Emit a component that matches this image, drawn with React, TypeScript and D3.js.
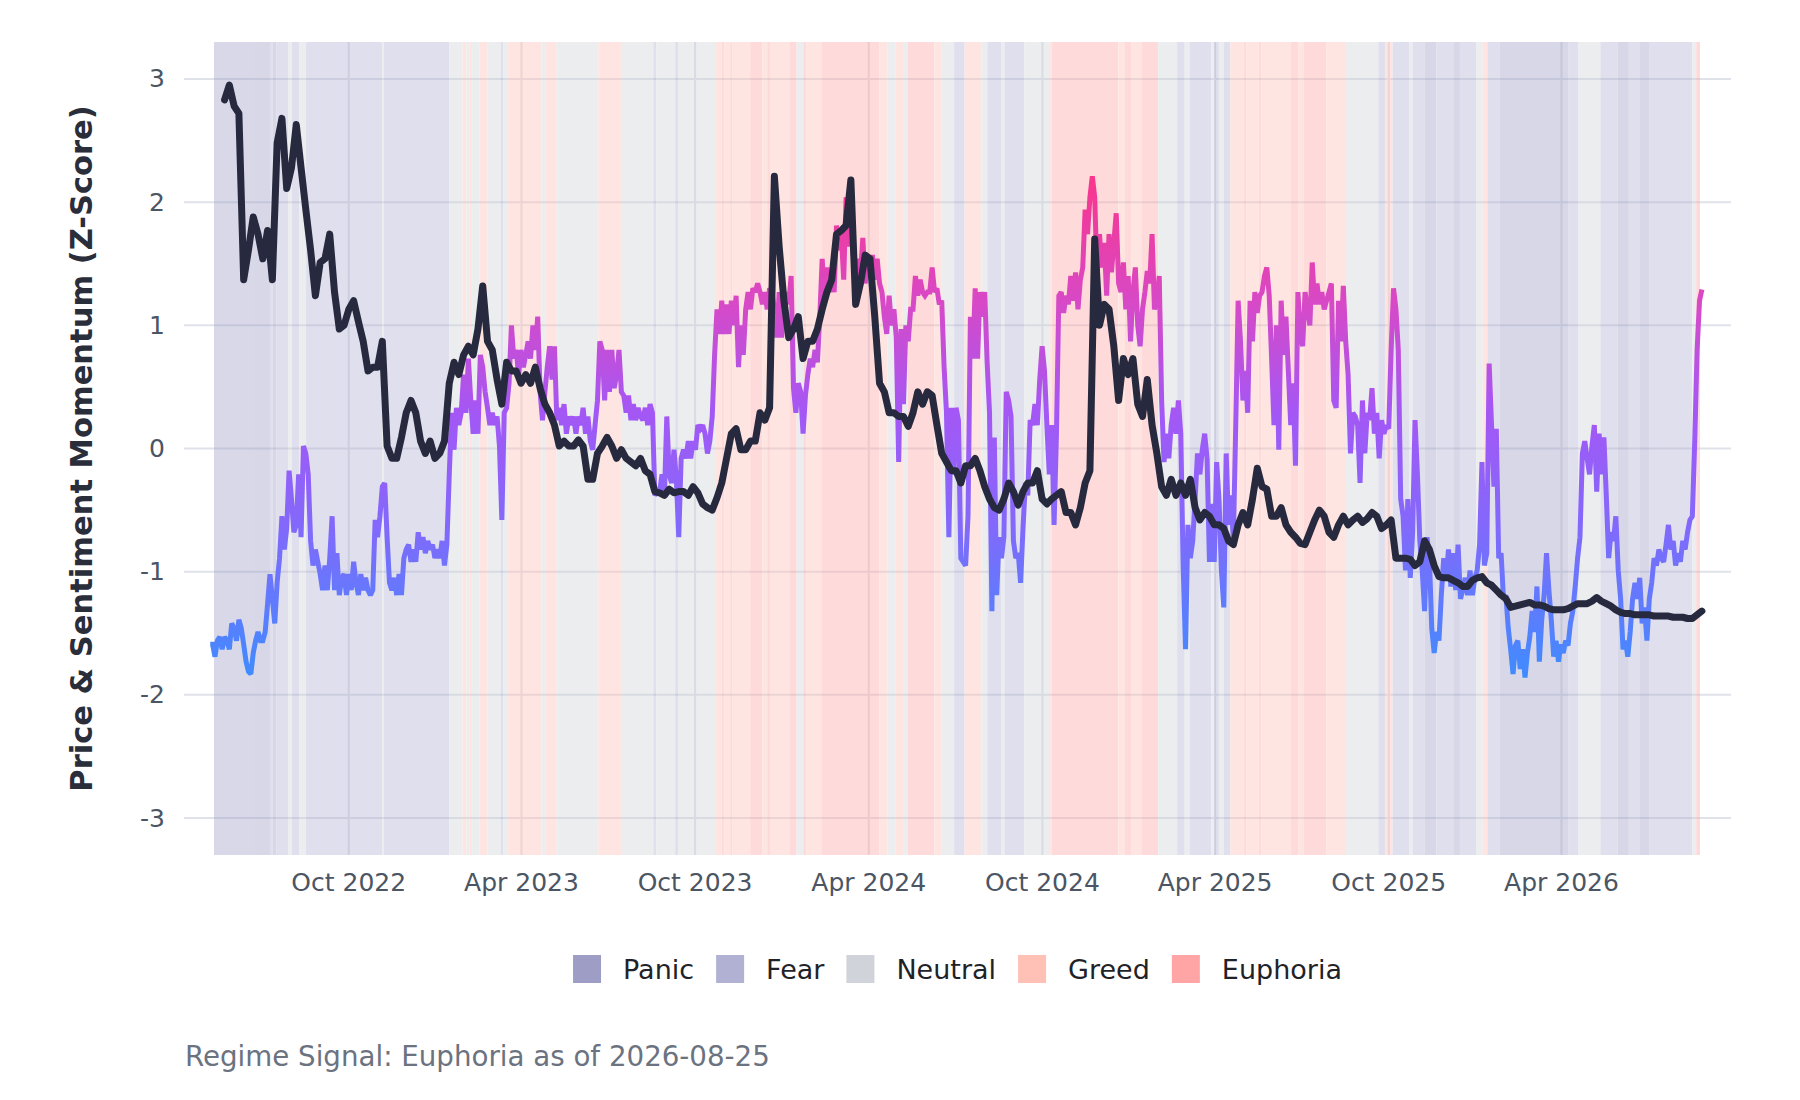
import * as d3 from "d3";
import { useMemo } from "react";

const W = 1800;
const H = 1100;
// panel (gridline extent) and the data extent inside it
const PANEL = { left: 184, right: 1731, top: 42, bottom: 855 };
const DATA_LEFT = 214;
const DATA_RIGHT = 1700;
const FONT = "'DejaVu Sans', Verdana, sans-serif";

const DOMAIN_START = "2022-05-12";
const DOMAIN_END = "2026-08-25";
const SERIES_START = "2022-05-08";
const SERIES_END = "2026-08-27";
const Y_DOMAIN: [number, number] = [-3.3, 3.3];
const Y_TICKS = [-3, -2, -1, 0, 1, 2, 3];
const X_TICKS = [
  "2022-10-01",
  "2023-04-01",
  "2023-10-01",
  "2024-04-01",
  "2024-10-01",
  "2025-04-01",
  "2025-10-01",
  "2026-04-01",
];

const REGIMES = ["Panic", "Fear", "Neutral", "Greed", "Euphoria"];
const REGIME_COLORS: Record<string, string> = {
  Panic: "#9d9dc5",
  Fear: "#b1b1d4",
  Neutral: "#d0d3d9",
  Greed: "#ffc0b5",
  Euphoria: "#ffa5a5",
};

// regime runs, in order: code + length in days
const REGIME_CODES = [
  "P", "F", "P", "F", "N", "F", "N", "F", "N", "F",
  "N", "G", "N", "G", "N", "G", "N", "F", "N", "G",
  "N", "G", "N", "G", "N", "F", "N", "F", "N", "G",
  "E", "G", "E", "G", "E", "G", "E", "G", "E",
  "N", "E", "G", "E", "G", "N", "G", "N", "E", "G",
  "N", "F", "G", "N", "F", "N", "F", "N", "G", "E",
  "G", "E", "G", "E", "N", "F", "N", "F", "N", "F",
  "N", "F", "G", "E", "G", "E", "G", "E", "G", "E",
  "G", "N", "F", "G", "F", "N", "F", "P", "F", "P",
  "F", "N", "G", "F", "P", "F", "N", "F", "P", "F",
  "P", "F", "N", "E",
];
const REGIME_DAYS = [
  59, 3, 4, 12, 4, 8, 7, 80, 2, 69,
  14, 4, 3, 3, 8, 8, 14, 3, 5, 35,
  4, 12, 44, 24, 34, 3, 20, 3, 40, 6,
  3, 6, 2, 19, 13, 5, 3, 21, 7,
  7, 3, 16, 61, 9, 8, 8, 5, 28, 8,
  13, 11, 18, 6, 15, 3, 21, 26, 3, 70,
  7, 7, 11, 17, 20, 8, 5, 23, 3, 5,
  5, 7, 14, 3, 13, 3, 31, 8, 5, 24,
  21, 34, 7, 8, 18, 3, 13, 12, 18, 7,
  17, 7, 5, 13, 72, 11, 23, 18, 12, 11,
  11, 45, 4, 4,
];
const CODE_NAME: Record<string, string> = {
  P: "Panic",
  F: "Fear",
  N: "Neutral",
  G: "Greed",
  E: "Euphoria",
};

// sentiment momentum, evenly spaced from SERIES_START to SERIES_END
const SENTIMENT = [
  -1.59, -1.59, -1.69, -1.56, -1.53, -1.63, -1.53, -1.56, -1.63, -1.42,
  -1.46, -1.56, -1.39, -1.46, -1.59, -1.73, -1.81, -1.83, -1.66, -1.56,
  -1.49, -1.56, -1.56, -1.49, -1.26, -1.02, -1.22, -1.42, -1.09, -0.89,
  -0.55, -0.82, -0.65, -0.18, -0.41, -0.68, -0.62, -0.21, -0.72, 0.02,
  -0.04, -0.21, -0.75, -0.95, -0.82, -0.92, -1.02, -1.15, -0.95, -1.15,
  -0.89, -0.55, -1.15, -0.85, -1.19, -1.05, -1.02, -1.19, -1.02, -1.15,
  -0.92, -1.09, -1.19, -1.02, -1.15, -1.05, -1.15, -1.19, -1.15, -0.58,
  -0.72, -0.55, -0.31, -0.28, -0.72, -1.09, -1.15, -1.05, -1.19, -1.02,
  -1.19, -0.89, -0.82, -0.78, -0.92, -0.82, -0.92, -0.68, -0.82, -0.72,
  -0.85, -0.75, -0.82, -0.78, -0.89, -0.82, -0.89, -0.75, -0.95, -0.78,
  -0.21, 0.29, -0.01, 0.33, 0.19, 0.29, 0.6, 0.29, 0.73, 0.39,
  0.12, 0.39, 0.12, 0.76, 0.66, 0.46, 0.33, 0.19, 0.29, 0.19,
  0.26, 0.02, -0.58, 0.29, 0.33, 0.53, 1.0, 0.73, 0.8, 0.6,
  0.8, 0.66, 0.76, 0.87, 0.73, 1.0, 0.8, 1.07, 0.46, 0.23,
  0.46, 0.66, 0.83, 0.56, 0.83, 0.23, 0.33, 0.19, 0.36, 0.12,
  0.26, 0.19, 0.26, 0.12, 0.26, 0.19, 0.33, 0.12, 0.26, 0.06,
  -0.01, 0.19, 0.39, 0.87, 0.8, 0.39, 0.8, 0.46, 0.8, 0.49,
  0.6, 0.8, 0.46, 0.43, 0.29, 0.43, 0.23, 0.36, 0.23, 0.33,
  0.26, 0.23, 0.33, 0.19, 0.36, 0.29, -0.38, -0.35, -0.35, -0.21,
  -0.38, 0.26, -0.21, -0.28, -0.01, -0.25, -0.72, -0.08, -0.01, -0.08,
  0.06, -0.08, 0.06, -0.01, 0.19, 0.16, 0.19, 0.12, -0.04, 0.06,
  0.26, 0.76, 1.13, 0.93, 1.2, 0.93, 1.17, 0.93, 1.2, 1.0,
  1.24, 0.66, 1.0, 0.76, 1.13, 1.27, 1.13, 1.3, 1.27, 1.34,
  1.27, 1.17, 1.27, 1.13, 1.3, 1.27, 1.13, 0.9, 1.27, 0.9,
  1.13, 1.27, 1.17, 1.4, 0.49, 0.29, 0.53, 0.46, 0.12, 0.43,
  0.6, 0.73, 0.66, 0.8, 0.7, 1.07, 1.54, 1.2, 1.47, 1.27,
  1.37, 1.27, 1.81, 1.61, 1.74, 1.37, 2.04, 1.64, 1.94, 1.57,
  1.4, 1.54, 1.4, 1.71, 1.34, 1.57, 1.4, 1.57, 1.37, 1.54,
  1.34, 1.27, 1.07, 0.93, 1.24, 1.0, 1.13, 0.9, -0.11, 0.97,
  0.36, 1.0, 0.87, 1.13, 1.13, 1.4, 1.24, 1.37, 1.27, 1.24,
  1.27, 1.27, 1.47, 1.27, 1.3, 1.17, 1.2, 0.66, 0.29, -0.72,
  0.33, -0.21,
  0.33, 0.23, -0.89, -0.92, -0.95, -0.55, 1.07, 0.73, 1.3, 0.73,
  1.27, 1.07, 1.27, 0.7, 0.29, -1.32, 0.09, -1.19, -0.72, -0.89,
  -0.72, 0.46, 0.39, 0.26, -0.75, -0.89, -0.85, -1.09, -0.65, -0.28,
  -0.38, 0.23, 0.19, 0.36, 0.19, 0.56, 0.83, 0.63, 0.19, -0.21,
  0.19, -0.62, 0.12, 1.24, 1.27, 1.1, 1.24, 1.17, 1.4, 1.2,
  1.43, 1.13, 1.37, 1.47, 1.94, 1.74, 2.04, 2.21, 2.04, 1.4,
  1.74, 1.47, 1.67, 1.24, 1.74, 1.43, 1.67, 1.91, 1.34, 1.27,
  1.51, 1.13, 1.4, 0.87, 1.27, 1.47, 1.0, 0.83, 1.13, 1.27,
  1.44, 1.34, 1.74, 1.13, 1.2, 1.4, 0.39, -0.11, 0.12, -0.08,
  0.19, 0.33, 0.12, 0.39, 0.12, -0.95, -1.63, -0.62, -0.89, -0.75,
  -0.41, -0.04, -0.21, -0.01, 0.12, -0.08, -0.92, -0.45, -0.92, -0.11,
  -0.41, -0.99, -1.29, -0.04, -0.62, -0.38, -0.75, 0.19, 1.2, 0.87,
  0.39, 0.63, 0.29, 1.2, 0.87, 1.27, 1.1, 1.24, 1.27, 1.4,
  1.47, 1.24, 0.73, 0.19, 1.0, -0.01, 1.2, 0.76, 1.07, 0.63,
  0.19, 0.53, -0.14, 1.27, 0.93, 0.83, 1.27, 1.13, 1.0, 1.51,
  1.17, 1.34, 1.17, 1.27, 1.13, 1.2, 1.27, 1.34, 0.39, 0.33,
  1.2, 0.87, 1.32, 0.87, 0.6, -0.04, 0.29, 0.26, 0.19, -0.28,
  0.39, -0.04, 0.29, 0.23, 0.49, 0.12, 0.29, -0.08, 0.23, 0.12,
  0.19, 0.16, 0.8, 1.3, 1.13, 0.8, -0.41, -0.55, -0.99, -0.41,
  -1.05, -0.68, 0.23, -0.21, -0.75, -0.99, -1.32, -0.72, -0.89, -1.46,
  -1.66, -1.49, -1.56, -1.19, -0.89, -1.05, -0.82, -1.12, -0.85, -1.15,
  -0.78, -1.22, -1.15, -1.05, -1.19, -0.99, -1.19, -1.05, -0.99, -0.78,
  -0.11, -0.95, -0.85, 0.69, 0.19, -0.31, 0.16, -0.89, -0.85, -1.22,
  -1.19, -1.46, -1.63, -1.83, -1.6, -1.56, -1.79, -1.63, -1.86, -1.66,
  -1.53, -1.32, -1.49, -1.12, -1.73, -1.39, -1.19, -0.85, -1.15, -1.39,
  -1.69, -1.56, -1.73, -1.59, -1.66, -1.56, -1.6, -1.42, -1.32, -1.12,
  -0.89, -0.72, -0.04, 0.06, -0.08, -0.21, 0.02, 0.19, -0.35, 0.12,
  -0.21, 0.09, -0.38, -0.89, -0.68, -0.75, -0.55, -0.99, -1.22, -1.63,
  -1.56, -1.69, -1.49, -1.22, -1.09, -1.22, -1.05, -1.42, -1.29, -1.56,
  -1.22, -1.09, -0.89, -0.95, -0.82, -0.89, -0.92, -0.78, -0.62, -0.82,
  -0.75, -0.95, -0.85, -0.92, -0.75, -0.82, -0.68, -0.58, -0.55, 0.06,
  0.8, 1.2, 1.29,
];

// price momentum, evenly spaced over the same span (null before it begins)
const PRICE: (number | null)[] = [
  null, null, null, 2.83, 2.95, 2.78, 2.72, 1.37, 1.61, 1.88,
  1.74, 1.54, 1.77, 1.37, 2.48, 2.68, 2.11, 2.28, 2.63, 2.28,
  1.94, 1.61, 1.24, 1.51, 1.54, 1.74, 1.27, 0.97, 1.0, 1.13,
  1.2, 1.03, 0.87, 0.63, 0.66, 0.66, 0.87, 0.02, -0.08, -0.08,
  0.09, 0.29, 0.39, 0.29, 0.06, -0.04, 0.06, -0.08, -0.04, 0.06,
  0.53, 0.7, 0.6, 0.76, 0.83, 0.76, 0.97, 1.32, 0.87, 0.8,
  0.56, 0.36, 0.7, 0.63, 0.63, 0.53, 0.6, 0.53, 0.66, 0.49,
  0.36, 0.29, 0.19, 0.02, 0.06, 0.02, 0.02, 0.07, 0.02, -0.25,
  -0.25, -0.04, 0.02, 0.09, 0.02, -0.08, -0.01, -0.08, -0.11, -0.14,
  -0.08, -0.18, -0.21, -0.35, -0.36, -0.38, -0.33, -0.36, -0.35, -0.35,
  -0.38, -0.31, -0.36, -0.45, -0.48, -0.5, -0.4, -0.28, -0.08, 0.12,
  0.16, -0.01, -0.01, 0.06, 0.06, 0.29, 0.23, 0.33, 2.21, 1.64,
  1.2, 0.9, 0.97, 1.07, 0.73, 0.87, 0.87, 0.97, 1.13, 1.27,
  1.37, 1.74, 1.77, 1.81, 2.18, 1.17, 1.34, 1.57, 1.54, 1.07,
  0.53, 0.46, 0.29, 0.29, 0.26, 0.26, 0.18, 0.29, 0.46, 0.36,
  0.46, 0.43, 0.19, -0.04, -0.11, -0.18,
  -0.18, -0.28, -0.14, -0.14, -0.08, -0.18, -0.31, -0.41, -0.48, -0.5,
  -0.41, -0.28, -0.35, -0.46, -0.35, -0.28, -0.28, -0.18, -0.41, -0.45,
  -0.41, -0.38, -0.35, -0.52, -0.52, -0.62, -0.48, -0.28, -0.18, 1.7,
  1.0, 1.17, 1.13, 0.83, 0.39, 0.73, 0.6, 0.73, 0.36, 0.26,
  0.56, 0.19, -0.04, -0.31, -0.38, -0.25, -0.38, -0.28, -0.38, -0.25,
  -0.48, -0.58, -0.52, -0.55, -0.62, -0.62, -0.65, -0.75, -0.78, -0.62,
  -0.52, -0.62, -0.41, -0.16, -0.31, -0.33, -0.55, -0.55, -0.48, -0.62,
  -0.68, -0.72, -0.77, -0.78, -0.68, -0.58, -0.5, -0.55, -0.68, -0.72,
  -0.62, -0.55, -0.62, -0.58, -0.55, -0.6, -0.57, -0.52, -0.55, -0.65,
  -0.62, -0.58, -0.89, -0.89, -0.89, -0.9, -0.95, -0.92, -0.75, -0.82,
  -0.95, -1.04, -1.05, -1.05, -1.07, -1.09, -1.12, -1.12, -1.07, -1.05,
  -1.04, -1.09, -1.11, -1.15, -1.19, -1.22, -1.29, -1.28, -1.27, -1.26,
  -1.25, -1.27, -1.27, -1.28, -1.3, -1.31, -1.31, -1.31, -1.3, -1.28,
  -1.26, -1.26, -1.26, -1.24, -1.21, -1.24, -1.26, -1.28, -1.31, -1.33,
  -1.34, -1.34, -1.35, -1.35, -1.35, -1.35, -1.36, -1.36, -1.36, -1.36,
  -1.37, -1.37, -1.37, -1.38, -1.38, -1.35, -1.32,
];

// colour ramp of the sentiment line, by value
const SENT_STOPS = [
  { v: -1.9, c: "#3d8dff" },
  { v: -0.6, c: "#8468fb" },
  { v: 0.3, c: "#a457f5" },
  { v: 1.2, c: "#d849c6" },
  { v: 2.25, c: "#fb3489" },
];

const CAPTION = "Regime Signal: Euphoria as of 2026-08-25";
const Y_TITLE = "Price & Sentiment Momentum (Z-Score)";

const parse = d3.utcParse("%Y-%m-%d");
const fmt = d3.utcFormat("%b %Y");

function textWidth(text: string, font: string): number {
  const ctx = document.createElement("canvas").getContext("2d");
  if (!ctx) return text.length * 15;
  ctx.font = font;
  return ctx.measureText(text).width;
}

// n dates spread evenly over the series span
function spanDates(n: number): Date[] {
  const t0 = parse(SERIES_START)!.getTime();
  const t1 = parse(SERIES_END)!.getTime();
  return d3.range(n).map((i) => new Date(t0 + ((t1 - t0) * i) / (n - 1)));
}

export default function App() {
  const x = useMemo(
    () =>
      d3
        .scaleUtc()
        .domain([parse(DOMAIN_START)!, parse(DOMAIN_END)!])
        .range([DATA_LEFT, DATA_RIGHT]),
    [],
  );
  const y = useMemo(
    () => d3.scaleLinear().domain(Y_DOMAIN).range([PANEL.bottom, PANEL.top]),
    [],
  );

  const line = d3
    .line<[Date, number | null]>()
    .defined((d) => d[1] != null)
    .x((d) => x(d[0]))
    .y((d) => y(d[1] as number));

  const sentPath = useMemo(() => {
    const ds = spanDates(SENTIMENT.length);
    return line(ds.map((d, i) => [d, SENTIMENT[i]])) ?? "";
  }, [line]);
  const pricePath = useMemo(() => {
    const ds = spanDates(PRICE.length);
    return line(ds.map((d, i) => [d, PRICE[i]])) ?? "";
  }, [line]);

  const bands = useMemo(() => {
    let cur = parse(DOMAIN_START)!;
    return REGIME_CODES.map((code, i) => {
      const next = d3.utcDay.offset(cur, REGIME_DAYS[i]);
      const b = { name: CODE_NAME[code], x0: x(cur), x1: x(next) };
      cur = next;
      return b;
    });
  }, [x]);

  const legendSize = 27;
  const legendFont = `${legendSize}px ${FONT}`;
  const legend = useMemo(() => {
    const sq = 28;
    const gap = 22;
    const items = REGIMES.map((r) => ({ r, w: textWidth(r, legendFont) }));
    const total =
      items.reduce((s, it) => s + sq + gap + it.w, 0) + gap * (items.length - 1);
    let cx = (PANEL.left + PANEL.right) / 2 - total / 2;
    return items.map((it) => {
      const out = { ...it, x: cx };
      cx += sq + gap + it.w + gap;
      return out;
    });
  }, [legendFont]);

  const yTop = y(2.3);
  const yBot = y(-1.95);

  return (
    <svg
      width={W}
      height={H}
      viewBox={`0 0 ${W} ${H}`}
      style={{ position: "absolute", left: 0, top: 0, background: "#ffffff" }}
      fontFamily={FONT}
    >
      <defs>
        <linearGradient
          id="sentGrad"
          gradientUnits="userSpaceOnUse"
          x1={0}
          x2={0}
          y1={yBot}
          y2={yTop}
        >
          {SENT_STOPS.map((s) => (
            <stop
              key={s.v}
              offset={(y(s.v) - yBot) / (yTop - yBot)}
              stopColor={s.c}
            />
          ))}
        </linearGradient>
      </defs>

      {/* gridlines */}
      {Y_TICKS.map((t) => (
        <line
          key={`gy${t}`}
          x1={PANEL.left}
          x2={PANEL.right}
          y1={y(t)}
          y2={y(t)}
          stroke="#dfe2e8"
          strokeWidth={2}
        />
      ))}
      {X_TICKS.map((t) => (
        <line
          key={`gx${t}`}
          x1={x(parse(t)!)}
          x2={x(parse(t)!)}
          y1={PANEL.top}
          y2={PANEL.bottom}
          stroke="#dfe2e8"
          strokeWidth={2}
        />
      ))}

      {/* regime shading */}
      <g opacity={0.4}>
        {bands.map((b, i) => (
          <rect
            key={i}
            x={b.x0}
            y={PANEL.top}
            width={Math.max(0, b.x1 - b.x0)}
            height={PANEL.bottom - PANEL.top}
            fill={REGIME_COLORS[b.name]}
          />
        ))}
      </g>

      {/* sentiment line, coloured by value */}
      <path
        d={sentPath}
        fill="none"
        stroke="url(#sentGrad)"
        strokeWidth={5}
        strokeLinejoin="miter"
        strokeMiterlimit={2}
      />
      {/* price momentum */}
      <path
        d={pricePath}
        fill="none"
        stroke="#272a3e"
        strokeWidth={7}
        strokeLinejoin="round"
        strokeLinecap="round"
      />

      {/* axes labels */}
      {Y_TICKS.map((t) => (
        <text
          key={`ty${t}`}
          x={165}
          y={y(t)}
          textAnchor="end"
          dominantBaseline="central"
          fontSize={25}
          fill="#4b5563"
        >
          {t}
        </text>
      ))}
      {X_TICKS.map((t) => (
        <text
          key={`tx${t}`}
          x={x(parse(t)!)}
          y={891}
          textAnchor="middle"
          fontSize={25}
          fill="#4b5563"
        >
          {fmt(parse(t)!)}
        </text>
      ))}
      <text
        transform={`translate(92, ${(PANEL.top + PANEL.bottom) / 2}) rotate(-90)`}
        textAnchor="middle"
        fontSize={30.5}
        fontWeight={700}
        fill="#2a2d3a"
      >
        {Y_TITLE}
      </text>

      {/* legend */}
      {legend.map((it) => (
        <g key={it.r}>
          <rect x={it.x} y={955} width={28} height={28} fill={REGIME_COLORS[it.r]} />
          <text x={it.x + 50} y={979} fontSize={legendSize} fill="#1f2328">
            {it.r}
          </text>
        </g>
      ))}

      <text x={185} y={1066} fontSize={27.7} fill="#6b7280">
        {CAPTION}
      </text>
    </svg>
  );
}
